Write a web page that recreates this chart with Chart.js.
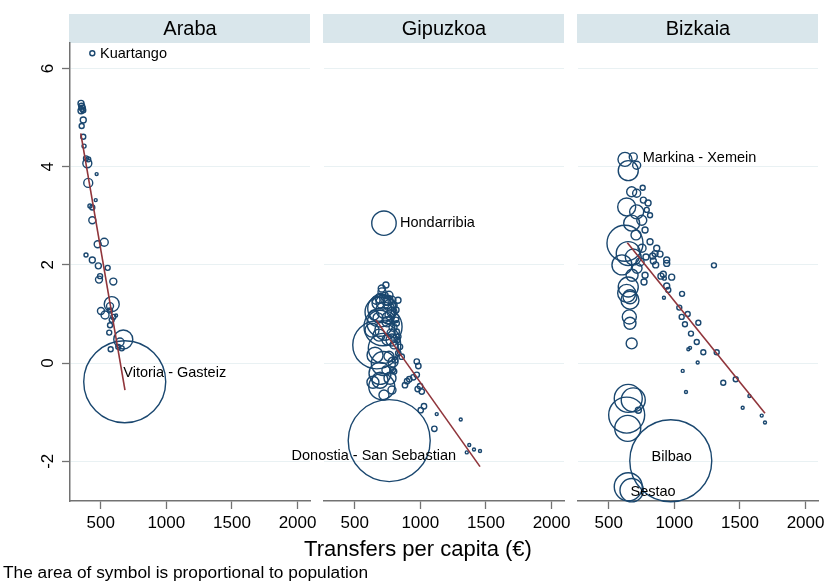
<!DOCTYPE html>
<html><head><meta charset="utf-8">
<script src="https://cdn.jsdelivr.net/npm/chart.js@4.4.1/dist/chart.umd.min.js"></script>
<style>
html,body{margin:0;padding:0;background:#fff;}
#wrap{position:relative;width:828px;height:584px;overflow:hidden;font-family:"Liberation Sans",Arial,sans-serif;color:#000;}
canvas{position:absolute;left:0;top:0;}
#xtitle{position:absolute;left:0;width:836px;text-align:center;top:538px;font-size:22px;line-height:1;white-space:nowrap;}
#note{position:absolute;left:3px;top:564px;font-size:17.3px;line-height:1;white-space:nowrap;}
</style></head><body>
<div id="wrap">
<canvas id="c0" width="828" height="584"></canvas>
<canvas id="c1" width="828" height="584"></canvas>
<canvas id="c2" width="828" height="584"></canvas>
<div id="xtitle">Transfers per capita (€)</div>
<div id="note">The area of symbol is proportional to population</div>
</div>
<script>
// ---------- data ----------
const panelNames = ['Araba', 'Gipuzkoa', 'Bizkaia'];
const xTicks = [500, 1000, 1500, 2000];
const yTicks = [-2, 0, 2, 4, 6];

// Araba: transfers per capita (€), y value, population (thousands)
const arabaX = [436,350,355,360,350,367,367,355,367,373,388,405,398,469,405,462,418,436,436,477,527,388,436,482,553,495,487,596,584,571,502,533,571,596,584,571,617,565,672,647,634,576,660,683];
const arabaY = [6.31,5.29,5.23,5.19,5.14,5.15,4.95,4.83,4.61,4.42,4.17,4.15,4.07,3.85,3.67,3.32,3.20,3.17,2.91,2.42,2.46,2.20,2.10,1.98,1.94,1.77,1.70,1.66,1.20,1.16,1.06,0.98,1.07,0.94,0.88,0.77,0.97,0.62,0.48,0.43,0.33,0.28,0.30,-0.38];
const arabaPop = [0.9,1.3,1.3,1.3,1.3,0.9,1.3,0.9,0.9,0.58,0.9,0.9,2.9,0.32,2.9,0.32,0.58,0.9,1.76,1.76,2.3,0.58,1.3,1.3,0.9,0.9,1.76,1.76,8.1,1.76,1.76,2.3,0.9,0.9,0.9,0.9,0.32,0.9,13,2.3,0.9,0.9,0.9,242];

const gipuzkoaX = [723,706,731,693,693,731,668,718,718,693,706,693,706,716,738,769,678,784,807,754,723,784,693,746,792,678,815,830,761,716,746,800,685,777,761,738,822,807,769,723,820,832,832,858,790,815,820,845,800,973,985,973,916,899,947,883,998,980,1011,1028,1003,1107,1125,1308,1373,1409,1455,1354,662,708,754,647,769,800,632,784,655,792,639,784,738,763];
const gipuzkoaY = [2.85,1.52,1.38,1.04,0.81,0.67,0.37,0.30,-0.01,-0.21,-0.48,-0.35,1.11,0.74,1.28,1.18,1.22,1.04,0.92,0.92,1.08,1.28,1.32,0.84,0.73,0.92,1.08,1.28,1.38,1.24,0.47,0.37,0.57,0.61,0.14,-0.14,0.47,0.06,-0.31,-0.65,0.81,0.54,0.20,0.13,-0.14,0.88,0.64,0.33,-0.17,0.03,-0.06,-0.24,-0.33,-0.37,-0.29,-0.45,-0.47,-0.53,-0.58,-0.88,-0.96,-1.34,-1.04,-1.15,-1.67,-1.76,-1.79,-1.82,1.28,1.45,1.28,0.98,0.98,1.18,0.67,0.47,0.16,0.02,-0.39,-0.55,1.59,-1.58];
const gipuzkoaPop = [16.5,1.36,1.0,24.9,18.7,11.1,63.7,24.9,15.9,13.4,18.7,7.1,21.7,40,2.77,3.98,3.98,2.77,1.77,3.98,7.08,1.77,2.77,2.77,1.77,2.77,1.0,1.0,1.77,5.4,2.77,1.77,3.98,1.77,2.77,1.77,1.0,1.0,3.98,2.77,0.8,0.8,0.8,0.8,0.8,0.8,0.8,0.8,0.8,0.8,0.8,0.8,0.8,0.8,0.8,0.8,0.8,0.8,0.8,0.8,0.8,0.8,0.25,0.25,0.25,0.25,0.25,0.25,1.77,1.77,2.77,2.77,2.77,1.0,5.4,3.98,7.08,2.77,3.98,1.77,1.0,186];

const bizkaiaX = [624,649,687,713,675,713,759,637,764,790,815,713,752,675,777,815,624,649,687,866,853,891,835,840,858,942,942,1302,916,898,980,924,942,954,1059,921,649,637,662,662,657,662,675,1038,1056,1102,1081,1183,1127,1171,1120,1107,1221,1323,1178,1064,1373,1468,1089,1572,1521,1666,1691,649,687,637,645,726,649,675,754,784,716,777,708,800,601,678,739,769,973];
const bizkaiaY = [4.15,3.92,4.20,4.03,3.49,3.46,3.57,3.18,3.32,3.12,3.01,3.08,2.91,2.85,2.71,2.47,2.44,2.23,2.16,2.34,2.23,2.22,2.18,2.08,2.00,2.10,2.03,1.99,1.81,1.77,1.75,1.73,1.57,1.49,1.41,1.33,1.55,1.42,1.35,1.28,0.94,0.81,0.40,1.13,0.94,1.00,0.79,0.82,0.60,0.43,0.31,0.28,0.22,0.22,0.01,-0.16,-0.40,-0.33,-0.59,-0.67,-0.91,-1.07,-1.21,-0.72,-0.75,-1.06,-1.33,-0.96,-2.52,-2.59,2.34,2.16,1.93,1.79,2.61,3.26,2.00,1.79,2.06,1.65,-1.99];
const bizkaiaPop = [10.1,20.5,3.3,3.3,5.1,3.3,1.28,16.6,1.85,1.28,1.28,10.1,5.1,13.1,1.85,1.85,66.5,29.6,13.1,1.85,1.85,1.85,1.85,1.85,1.85,1.85,1.85,1.28,1.85,1.85,1.85,0.8,1.85,1.28,1.28,0.46,20.5,16.6,10.1,16.6,10.1,7.4,6.2,1.28,1.28,1.28,1.28,1.28,1.28,1.28,0.46,0.46,1.28,1.28,0.46,0.46,1.28,1.28,0.46,0.46,0.46,0.46,0.46,40.2,29.6,66.5,34.7,1.85,40.2,28,3.3,1.85,5.1,1.85,5.1,1.85,20.5,7.4,3.3,1.85,345];

// fitted lines (end points)
const arabaFitX = [348, 685], arabaFitY = [4.68, -0.55];
const gipuzkoaFitX = [662, 1455], gipuzkoaFitY = [0.88, -2.11];
const bizkaiaFitX = [642, 1691], bizkaiaFitY = [2.45, -1.02];

// point labels
const arabaLabels = ['Kuartango', 'Vitoria - Gasteiz'], arabaLabelX = [495, 672], arabaLabelY = [6.30, -0.21], arabaLabelAlign = ['left', 'left'];
const gipuzkoaLabels = ['Hondarribia', 'Donostia - San Sebastian'], gipuzkoaLabelX = [845, 1272], gipuzkoaLabelY = [2.85, -1.89], gipuzkoaLabelAlign = ['left', 'right'];
const bizkaiaLabels = ['Markina - Xemein', 'Bilbao', 'Sestao'], bizkaiaLabelX = [759, 980, 838], bizkaiaLabelY = [4.17, -1.91, -2.62], bizkaiaLabelAlign = ['left', 'center', 'center'];

// ---------- styling / layout ----------
const FONT = '"Liberation Sans", Arial, Helvetica, sans-serif';
Chart.defaults.font.family = FONT;
const MARK = '#1a476f', FITC = '#90353b', GRID = '#e9f1f3', STRIP = '#d9e6eb', AXIS = '#727272';
const PANEL_L = [70, 324, 578], PANEL_R = [310, 564, 818];
const R_MAX = 41;
const X_MIN = 266, X_MAX = 2095, Y_MIN = -2.81, Y_MAX = 6.52;

const panels = [
  {x: arabaX, y: arabaY, pop: arabaPop, fx: arabaFitX, fy: arabaFitY, lt: arabaLabels, lx: arabaLabelX, ly: arabaLabelY, la: arabaLabelAlign},
  {x: gipuzkoaX, y: gipuzkoaY, pop: gipuzkoaPop, fx: gipuzkoaFitX, fy: gipuzkoaFitY, lt: gipuzkoaLabels, lx: gipuzkoaLabelX, ly: gipuzkoaLabelY, la: gipuzkoaLabelAlign},
  {x: bizkaiaX, y: bizkaiaY, pop: bizkaiaPop, fx: bizkaiaFitX, fy: bizkaiaFitY, lt: bizkaiaLabels, lx: bizkaiaLabelX, ly: bizkaiaLabelY, la: bizkaiaLabelAlign}
];

function makePanel(idx) {
  const p = panels[idx];
  const popMax = Math.max(...p.pop);
  const pts = p.x.map((x, i) => ({x: x, y: p.y[i], r: Math.max(1.3, R_MAX * Math.sqrt(p.pop[i] / popMax))}));
  const fit = p.fx.map((x, i) => ({x: x, y: p.fy[i]}));
  const first = idx === 0;
  const panelPlugin = {
    id: 'panelDeco' + idx,
    beforeDraw(chart) {
      const ctx = chart.ctx, a = chart.chartArea;
      ctx.save();
      ctx.fillStyle = STRIP;
      ctx.fillRect(a.left - 1, 14, a.right - a.left + 1, 29);
      ctx.fillStyle = '#000';
      ctx.font = '20px ' + FONT;
      ctx.textAlign = 'center';
      ctx.textBaseline = 'middle';
      ctx.fillText(panelNames[idx], (a.left + a.right) / 2, 29);
      ctx.restore();
    },
    afterDatasetsDraw(chart) {
      const ctx = chart.ctx, xs = chart.scales.x, ys = chart.scales.y;
      ctx.save();
      ctx.fillStyle = '#000';
      ctx.font = '14.5px ' + FONT;
      ctx.textBaseline = 'middle';
      p.lt.forEach((t, i) => {
        ctx.textAlign = p.la[i];
        ctx.fillText(t, xs.getPixelForValue(p.lx[i]), ys.getPixelForValue(p.ly[i]));
      });
      ctx.restore();
    }
  };
  return new Chart(document.getElementById('c' + idx), {
    type: 'bubble',
    data: {
      datasets: [
        {type: 'line', data: fit, borderColor: FITC, borderWidth: 1.6, pointRadius: 0, fill: false, clip: false},
        {type: 'bubble', data: pts, borderColor: MARK, backgroundColor: 'rgba(0,0,0,0)', borderWidth: 1.4, clip: false}
      ]
    },
    options: {
      responsive: false, animation: false, devicePixelRatio: 1,
      events: [],
      layout: {autoPadding: false, padding: {left: first ? 0 : PANEL_L[idx], right: 828 - PANEL_R[idx], top: 43, bottom: 0}},
      plugins: {legend: {display: false}, tooltip: {enabled: false}, title: {display: false}},
      scales: {
        x: {
          type: 'linear', min: X_MIN, max: X_MAX,
          afterBuildTicks: s => { s.ticks = xTicks.map(v => ({value: v})); },
          afterFit: s => { s.height = 83; s.paddingLeft = 0; s.paddingRight = 0; },
          grid: {display: true, drawOnChartArea: false, drawTicks: true, tickLength: 8, tickColor: AXIS, tickWidth: 1.3},
          border: {display: true, color: AXIS, width: 1.5},
          ticks: {color: '#000', font: {size: 17}, padding: 4, maxRotation: 0, minRotation: 0, autoSkip: false, callback: v => String(v)}
        },
        y: {
          type: 'linear', min: Y_MIN, max: Y_MAX,
          afterBuildTicks: s => { s.ticks = yTicks.map(v => ({value: v})); },
          afterFit: s => { s.width = first ? 70 : 0; s.paddingTop = 0; s.paddingBottom = 0; },
          grid: {display: true, color: GRID, lineWidth: 1, drawTicks: first, tickLength: 8, tickColor: AXIS, tickWidth: 1.3},
          border: {display: first, color: AXIS, width: 1.5},
          ticks: {display: first, color: '#000', font: {size: 17}, minRotation: 90, maxRotation: 90, crossAlign: 'center', padding: 6, callback: v => String(v)}
        }
      }
    },
    plugins: [panelPlugin]
  });
}
[0, 1, 2].forEach(makePanel);
</script>
</body></html>
